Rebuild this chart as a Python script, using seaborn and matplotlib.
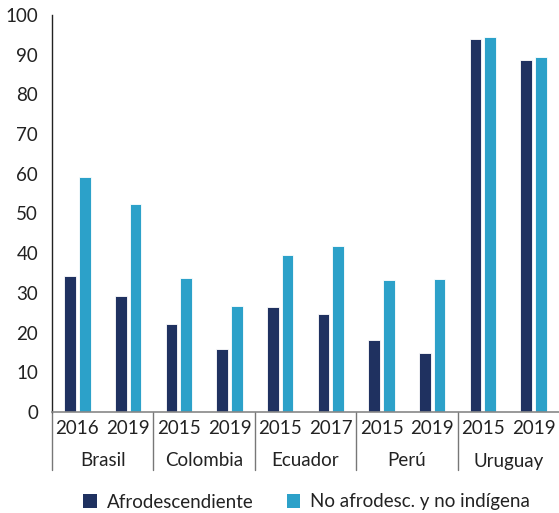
import pandas as pd
import matplotlib.pyplot as plt
import matplotlib.transforms as mtransforms
from matplotlib.patches import Patch
import seaborn as sns

countries = ['Brasil', 'Colombia', 'Ecuador', 'Perú', 'Uruguay']
years = ['2016', '2019', '2015', '2019', '2015', '2017', '2015', '2019', '2015', '2019']
group_country = ['Brasil', 'Brasil', 'Colombia', 'Colombia', 'Ecuador', 'Ecuador',
                 'Perú', 'Perú', 'Uruguay', 'Uruguay']
afro = [34.3, 29.2, 22.2, 15.8, 26.4, 24.6, 18.2, 14.9, 93.9, 88.7]
no_afro = [59.2, 52.3, 33.8, 26.8, 39.5, 41.9, 33.2, 33.5, 94.5, 89.3]
series = ['Afrodescendiente', 'No afrodesc. y no indígena']
colors = ['#1f3160', '#2ca1c9']

keys = [c + ' ' + y for c, y in zip(group_country, years)]
df = pd.DataFrame({
    'grupo': keys * 2,
    'valor': afro + no_afro,
    'serie': [series[0]] * len(keys) + [series[1]] * len(keys),
})

sns.set_style('white')
plt.rcParams['font.family'] = ['Lato', 'DejaVu Sans']

fig = plt.figure(figsize=(5.59, 5.13), dpi=100)
ax = fig.add_axes([52 / 559, 1 - 412 / 513, 1 - 52 / 559, (412 - 15) / 513])

sns.barplot(data=df, x='grupo', y='valor', hue='serie', order=keys, hue_order=series,
            palette=colors, saturation=1, width=0.58, gap=0.2, ax=ax, legend=False,
            edgecolor='white', linewidth=0.6)

ax.set_ylim(0, 100)
ax.set_xlim(-0.5, 9.5)
ax.set_yticks(range(0, 101, 10))
ax.set_xticks(range(len(keys)))
ax.set_xticklabels(years)
ax.set_xlabel('')
ax.set_ylabel('')
ax.tick_params(axis='y', length=0, labelsize=13.5, labelcolor='#222222', pad=10)
ax.tick_params(axis='x', length=0, labelsize=13.5, labelcolor='#222222', pad=6)

for s in ['top', 'right']:
    ax.spines[s].set_visible(False)
ax.spines['left'].set_color('#222222')
ax.spines['left'].set_linewidth(1.0)
ax.spines['bottom'].set_color('#888888')
ax.spines['bottom'].set_linewidth(1.2)

# separadores y nombres de país
trans = mtransforms.blended_transform_factory(ax.transData, fig.transFigure)
for b in [-0.5, 1.5, 3.5, 5.5, 7.5]:
    ax.plot([b, b], [1 - 412 / 513, 1 - 470 / 513], color='#777777', lw=1.0,
            transform=trans, clip_on=False)
for i, c in enumerate(countries):
    ax.text(2 * i + 0.5, 1 - 461 / 513, c, transform=trans, ha='center', va='center',
            fontsize=13.5, color='#222222')

handles = [Patch(facecolor=col, edgecolor='none') for col in colors]
fig.legend(handles, series, loc='center', bbox_to_anchor=(0.549, 1 - 502 / 513), ncol=2,
           frameon=False, fontsize=13.5, handlelength=0.7, handleheight=0.7,
           handletextpad=0.57, columnspacing=1.74, labelcolor='#222222',
           borderpad=0, borderaxespad=0)

fig.savefig('out.png', dpi=100)
